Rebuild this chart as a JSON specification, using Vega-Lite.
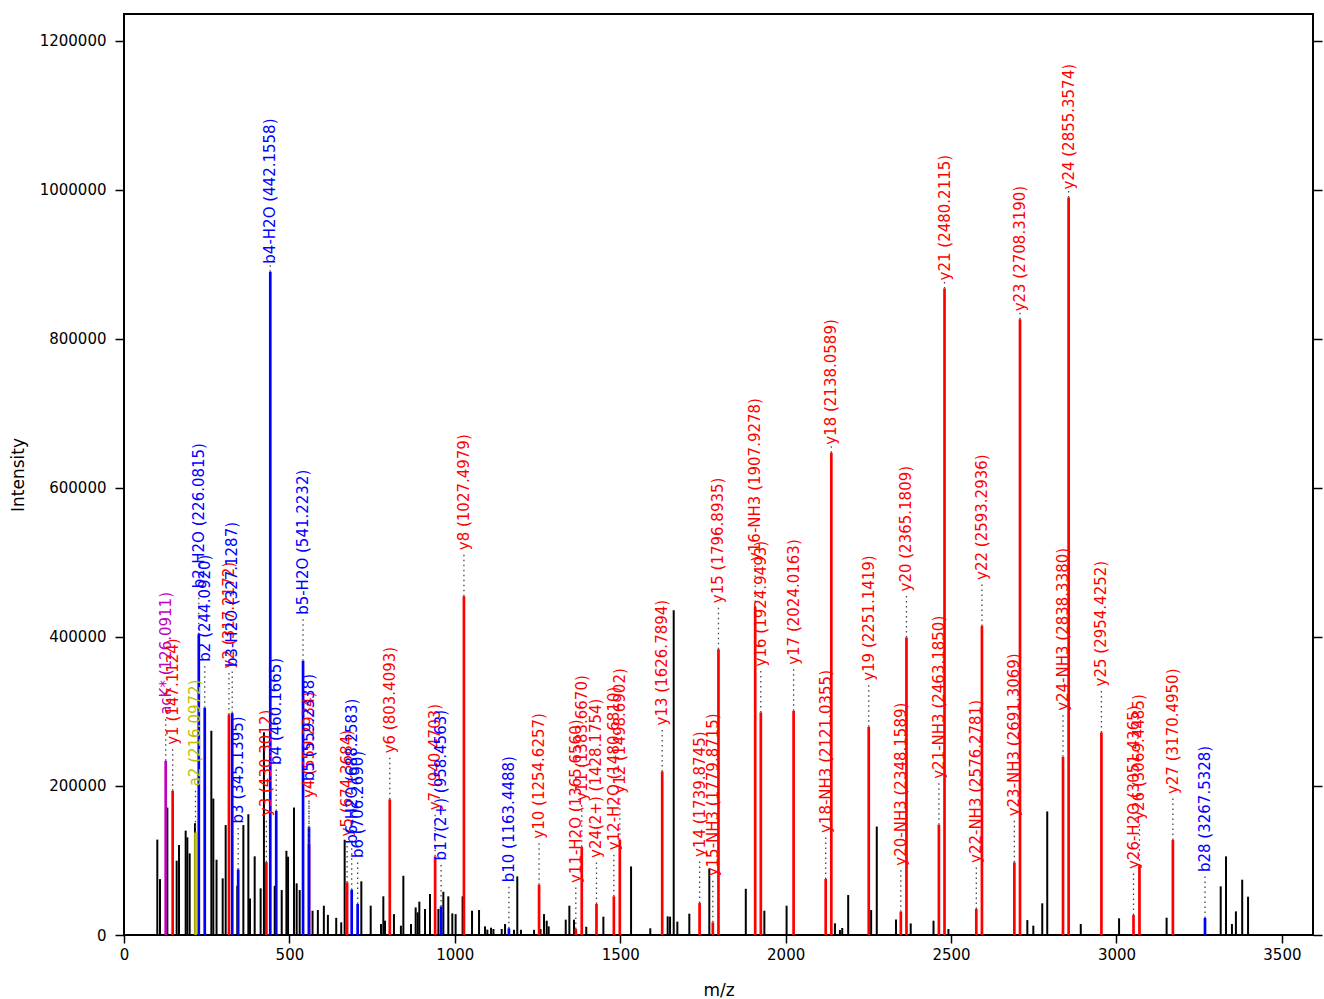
{
  "$schema": "https://vega.github.io/schema/vega-lite/v6.json",
  "width": 1189,
  "height": 921,
  "autosize": "none",
  "padding": {"left": 124, "top": 14, "right": 11, "bottom": 64},
  "background": "white",
  "config": {
    "view": {"stroke": "black", "strokeWidth": 2},
    "font": "DejaVu Sans",
    "axis": {"labelFont": "DejaVu Sans", "titleFont": "DejaVu Sans", "labelColor": "black", "titleColor": "black", "tickColor": "black", "grid": false, "domain": false, "titleFontWeight": "normal", "labelFlush": false}
  },
  "datasets": {
    "peaks": [
      {"mz": 100.7, "intensity": 128000}, {"mz": 108.9, "intensity": 75000}, {"mz": 131.0, "intensity": 171000},
      {"mz": 159.2, "intensity": 99700}, {"mz": 166.3, "intensity": 120700}, {"mz": 186.4, "intensity": 140000},
      {"mz": 191.5, "intensity": 131000}, {"mz": 198.5, "intensity": 109500}, {"mz": 214.5, "intensity": 150000},
      {"mz": 264.0, "intensity": 274000}, {"mz": 270.0, "intensity": 183000}, {"mz": 279.7, "intensity": 101000},
      {"mz": 298.3, "intensity": 76000}, {"mz": 307.3, "intensity": 147500}, {"mz": 342.5, "intensity": 66000},
      {"mz": 360.8, "intensity": 147500}, {"mz": 375.9, "intensity": 162000}, {"mz": 380.9, "intensity": 49000},
      {"mz": 395.0, "intensity": 105500}, {"mz": 413.0, "intensity": 62600}, {"mz": 423.0, "intensity": 272000},
      {"mz": 455.6, "intensity": 66000}, {"mz": 476.7, "intensity": 60300}, {"mz": 490.9, "intensity": 113000},
      {"mz": 495.9, "intensity": 105000}, {"mz": 513.9, "intensity": 171000}, {"mz": 521.9, "intensity": 69300},
      {"mz": 531.0, "intensity": 60300}, {"mz": 569.9, "intensity": 32600}, {"mz": 586.0, "intensity": 33500},
      {"mz": 604.1, "intensity": 39300}, {"mz": 616.3, "intensity": 27000}, {"mz": 641.5, "intensity": 23000},
      {"mz": 656.6, "intensity": 17000}, {"mz": 667.0, "intensity": 127800}, {"mz": 717.4, "intensity": 72000},
      {"mz": 745.7, "intensity": 39300}, {"mz": 776.9, "intensity": 14700}, {"mz": 783.9, "intensity": 51900},
      {"mz": 788.9, "intensity": 19200}, {"mz": 816.0, "intensity": 28000}, {"mz": 837.0, "intensity": 12500},
      {"mz": 844.4, "intensity": 79500}, {"mz": 867.6, "intensity": 14700}, {"mz": 881.6, "intensity": 37000},
      {"mz": 887.7, "intensity": 30400}, {"mz": 892.7, "intensity": 44700}, {"mz": 909.9, "intensity": 34900},
      {"mz": 925.0, "intensity": 55000}, {"mz": 950.3, "intensity": 34900}, {"mz": 965.3, "intensity": 58000},
      {"mz": 980.3, "intensity": 51900}, {"mz": 992.4, "intensity": 29000}, {"mz": 1002.4, "intensity": 28000},
      {"mz": 1023.5, "intensity": 51900}, {"mz": 1052.0, "intensity": 32600}, {"mz": 1073.2, "intensity": 33500},
      {"mz": 1091.3, "intensity": 11600}, {"mz": 1098.3, "intensity": 7200}, {"mz": 1109.5, "intensity": 9800},
      {"mz": 1116.7, "intensity": 8000}, {"mz": 1141.7, "intensity": 8000}, {"mz": 1151.8, "intensity": 14700},
      {"mz": 1178.8, "intensity": 7000}, {"mz": 1188.8, "intensity": 78600}, {"mz": 1199.9, "intensity": 7000},
      {"mz": 1239.5, "intensity": 7000}, {"mz": 1259.0, "intensity": 8000}, {"mz": 1269.6, "intensity": 28000},
      {"mz": 1277.7, "intensity": 19200}, {"mz": 1283.7, "intensity": 11600}, {"mz": 1335.2, "intensity": 20600},
      {"mz": 1346.2, "intensity": 39300}, {"mz": 1360.3, "intensity": 20600}, {"mz": 1397.3, "intensity": 11000},
      {"mz": 1449.0, "intensity": 24600}, {"mz": 1532.7, "intensity": 92000}, {"mz": 1590.8, "intensity": 9000},
      {"mz": 1643.4, "intensity": 25000}, {"mz": 1650.6, "intensity": 24600}, {"mz": 1661.6, "intensity": 435800},
      {"mz": 1672.6, "intensity": 17900}, {"mz": 1708.8, "intensity": 28600}, {"mz": 1769.2, "intensity": 89000},
      {"mz": 1879.5, "intensity": 62000}, {"mz": 1935.6, "intensity": 32600}, {"mz": 2002.8, "intensity": 39300},
      {"mz": 2149.0, "intensity": 15700}, {"mz": 2164.0, "intensity": 6700}, {"mz": 2171.0, "intensity": 9400},
      {"mz": 2189.0, "intensity": 53600}, {"mz": 2258.4, "intensity": 33500}, {"mz": 2275.4, "intensity": 145500},
      {"mz": 2333.6, "intensity": 20800}, {"mz": 2378.0, "intensity": 15500}, {"mz": 2446.9, "intensity": 19200},
      {"mz": 2492.0, "intensity": 8000}, {"mz": 2730.5, "intensity": 20000}, {"mz": 2748.6, "intensity": 12500},
      {"mz": 2775.6, "intensity": 42500}, {"mz": 2790.7, "intensity": 165800}, {"mz": 2892.0, "intensity": 14700},
      {"mz": 3007.8, "intensity": 22400}, {"mz": 3151.5, "intensity": 23200}, {"mz": 3315.0, "intensity": 65300},
      {"mz": 3331.0, "intensity": 105500}, {"mz": 3349.0, "intensity": 14700}, {"mz": 3361.0, "intensity": 31700},
      {"mz": 3380.0, "intensity": 74200}, {"mz": 3397.7, "intensity": 51400}
    ],
    "ions": [
      {"mz": 126.0911, "intensity": 233700, "series": "immonium", "label": "acK* (126.0911)"},
      {"mz": 147.1124, "intensity": 193500, "series": "y", "label": "y1 (147.1124)"},
      {"mz": 216.0972, "intensity": 137700, "series": "a", "label": "a2 (216.0972)"},
      {"mz": 226.0815, "intensity": 403600, "series": "b", "label": "b2-H2O (226.0815)"},
      {"mz": 244.0920, "intensity": 305000, "series": "b", "label": "b2 (244.0920)"},
      {"mz": 317.2172, "intensity": 296000, "series": "y", "label": "y2 (317.2172)"},
      {"mz": 327.1287, "intensity": 297700, "series": "b", "label": "b3-H2O (327.1287)"},
      {"mz": 345.1395, "intensity": 88000, "series": "b", "label": "b3 (345.1395)"},
      {"mz": 430.3012, "intensity": 97700, "series": "y", "label": "y3 (430.3012)"},
      {"mz": 442.1558, "intensity": 890000, "series": "b", "label": "b4-H2O (442.1558)"},
      {"mz": 460.1665, "intensity": 166500, "series": "b", "label": "b4 (460.1665)"},
      {"mz": 541.2232, "intensity": 367800, "series": "b", "label": "b5-H2O (541.2232)"},
      {"mz": 559.2934, "intensity": 122000, "series": "y", "label": "y4 (559.2934)"},
      {"mz": 559.2338, "intensity": 144800, "series": "b", "label": "b5 (559.2338)"},
      {"mz": 674.3684, "intensity": 70600, "series": "y", "label": "y5 (674.3684)"},
      {"mz": 688.2583, "intensity": 60800, "series": "b", "label": "b6-H2O (688.2583)"},
      {"mz": 706.2690, "intensity": 41600, "series": "b", "label": "b6 (706.2690)"},
      {"mz": 803.4093, "intensity": 182000, "series": "y", "label": "y6 (803.4093)"},
      {"mz": 940.4703, "intensity": 105500, "series": "y", "label": "y7 (940.4703)"},
      {"mz": 958.4563, "intensity": 38400, "series": "b", "label": "b17(2+) (958.4563)"},
      {"mz": 1027.4979, "intensity": 454500, "series": "y", "label": "y8 (1027.4979)"},
      {"mz": 1163.4488, "intensity": 9000, "series": "b", "label": "b10 (1163.4488)"},
      {"mz": 1254.6257, "intensity": 67500, "series": "y", "label": "y10 (1254.6257)"},
      {"mz": 1365.6560, "intensity": 8000, "series": "y", "label": "y11-H2O (1365.6560)"},
      {"mz": 1383.6670, "intensity": 118400, "series": "y", "label": "y11 (1383.6670)"},
      {"mz": 1428.1754, "intensity": 41600, "series": "y", "label": "y24(2+) (1428.1754)"},
      {"mz": 1480.6810, "intensity": 51900, "series": "y", "label": "y12-H2O (1480.6810)"},
      {"mz": 1498.6902, "intensity": 127800, "series": "y", "label": "y12 (1498.6902)"},
      {"mz": 1626.7894, "intensity": 219500, "series": "y", "label": "y13 (1626.7894)"},
      {"mz": 1739.8745, "intensity": 42900, "series": "y", "label": "y14 (1739.8745)"},
      {"mz": 1779.8715, "intensity": 17000, "series": "y", "label": "y15-NH3 (1779.8715)"},
      {"mz": 1796.8935, "intensity": 383500, "series": "y", "label": "y15 (1796.8935)"},
      {"mz": 1907.9278, "intensity": 440000, "series": "y", "label": "y16-NH3 (1907.9278)"},
      {"mz": 1924.9493, "intensity": 298600, "series": "y", "label": "y16 (1924.9493)"},
      {"mz": 2024.0163, "intensity": 300800, "series": "y", "label": "y17 (2024.0163)"},
      {"mz": 2121.0355, "intensity": 75100, "series": "y", "label": "y18-NH3 (2121.0355)"},
      {"mz": 2138.0589, "intensity": 647000, "series": "y", "label": "y18 (2138.0589)"},
      {"mz": 2251.1419, "intensity": 279300, "series": "y", "label": "y19 (2251.1419)"},
      {"mz": 2348.1589, "intensity": 31300, "series": "y", "label": "y20-NH3 (2348.1589)"},
      {"mz": 2365.1809, "intensity": 399200, "series": "y", "label": "y20 (2365.1809)"},
      {"mz": 2463.1850, "intensity": 147900, "series": "y", "label": "y21-NH3 (2463.1850)"},
      {"mz": 2480.2115, "intensity": 867500, "series": "y", "label": "y21 (2480.2115)"},
      {"mz": 2576.2781, "intensity": 34900, "series": "y", "label": "y22-NH3 (2576.2781)"},
      {"mz": 2593.2936, "intensity": 414700, "series": "y", "label": "y22 (2593.2936)"},
      {"mz": 2691.3069, "intensity": 97500, "series": "y", "label": "y23-NH3 (2691.3069)"},
      {"mz": 2708.3190, "intensity": 826000, "series": "y", "label": "y23 (2708.3190)"},
      {"mz": 2838.3380, "intensity": 239000, "series": "y", "label": "y24-NH3 (2838.3380)"},
      {"mz": 2855.3574, "intensity": 989500, "series": "y", "label": "y24 (2855.3574)"},
      {"mz": 2954.4252, "intensity": 271800, "series": "y", "label": "y25 (2954.4252)"},
      {"mz": 3051.4365, "intensity": 26800, "series": "y", "label": "y26-H2O (3051.4365)"},
      {"mz": 3069.4485, "intensity": 92900, "series": "y", "label": "y26 (3069.4485)"},
      {"mz": 3170.4950, "intensity": 127400, "series": "y", "label": "y27 (3170.4950)"},
      {"mz": 3267.5328, "intensity": 22800, "series": "b", "label": "b28 (3267.5328)"}
    ]
  },
  "resolve": {"axis": {"y": "independent"}},
  "layer": [
    {
      "data": {"name": "peaks"},
      "mark": {"type": "rule", "color": "black", "strokeWidth": 2},
      "encoding": {
        "x": {"field": "mz", "type": "quantitative", "scale": {"domain": [0, 3594], "nice": false, "zero": false},
              "axis": {"title": "m/z", "values": [0, 500, 1000, 1500, 2000, 2500, 3000, 3500], "format": "d", "tickSize": 8, "tickWidth": 1.5, "labelFontSize": 15, "labelPadding": 4, "titleFontSize": 17, "titlePadding": 20}},
        "y": {"field": "intensity", "type": "quantitative", "scale": {"domain": [0, 1235700], "nice": false},
              "axis": {"orient": "left", "title": "Intensity", "values": [0, 200000, 400000, 600000, 800000, 1000000, 1200000], "format": "d", "tickSize": 9, "tickWidth": 1.5, "labelFontSize": 15, "labelPadding": 9, "titleFontSize": 17, "titlePadding": 12}},
        "y2": {"datum": 0}
      }
    },
    {
      "data": {"name": "ions"},
      "mark": {"type": "rule", "strokeWidth": 2.7},
      "encoding": {
        "x": {"field": "mz", "type": "quantitative"},
        "y": {"field": "intensity", "type": "quantitative",
              "axis": {"orient": "right", "title": null, "labels": false, "values": [0, 200000, 400000, 600000, 800000, 1000000, 1200000], "tickSize": 9, "tickWidth": 1.5}},
        "y2": {"datum": 0},
        "color": {"field": "series", "type": "nominal", "scale": {"domain": ["y", "b", "a", "immonium"], "range": ["#ff0000", "#0000ff", "#bfbf00", "#bf00bf"]}, "legend": null}
      }
    },
    {
      "data": {"name": "ions"},
      "transform": [{"filter": "datum.intensity <= 600000"}],
      "mark": {"type": "rule", "color": "#444444", "strokeWidth": 1.3, "strokeDash": [1.5, 3.5], "y2Offset": -44},
      "encoding": {
        "x": {"field": "mz", "type": "quantitative"},
        "y": {"field": "intensity", "type": "quantitative", "axis": null},
        "y2": {"field": "intensity"}
      }
    },
    {
      "data": {"name": "ions"},
      "transform": [{"filter": "datum.intensity > 600000"}],
      "mark": {"type": "rule", "color": "#444444", "strokeWidth": 1.3, "strokeDash": [1.5, 3.5], "y2Offset": -7},
      "encoding": {
        "x": {"field": "mz", "type": "quantitative"},
        "y": {"field": "intensity", "type": "quantitative", "axis": null},
        "y2": {"field": "intensity"}
      }
    },
    {
      "data": {"name": "ions"},
      "transform": [{"filter": "datum.intensity <= 600000"}],
      "mark": {"type": "text", "angle": 270, "align": "left", "baseline": "middle", "dx": 46, "fontSize": 15, "font": "DejaVu Sans"},
      "encoding": {
        "x": {"field": "mz", "type": "quantitative"},
        "y": {"field": "intensity", "type": "quantitative", "axis": null},
        "text": {"field": "label"},
        "color": {"field": "series", "type": "nominal", "scale": {"domain": ["y", "b", "a", "immonium"], "range": ["#ff0000", "#0000ff", "#bfbf00", "#bf00bf"]}, "legend": null}
      }
    },
    {
      "data": {"name": "ions"},
      "transform": [{"filter": "datum.intensity > 600000"}],
      "mark": {"type": "text", "angle": 270, "align": "left", "baseline": "middle", "dx": 8, "fontSize": 15, "font": "DejaVu Sans"},
      "encoding": {
        "x": {"field": "mz", "type": "quantitative"},
        "y": {"field": "intensity", "type": "quantitative", "axis": null},
        "text": {"field": "label"},
        "color": {"field": "series", "type": "nominal", "scale": {"domain": ["y", "b", "a", "immonium"], "range": ["#ff0000", "#0000ff", "#bfbf00", "#bf00bf"]}, "legend": null}
      }
    }
  ]
}
